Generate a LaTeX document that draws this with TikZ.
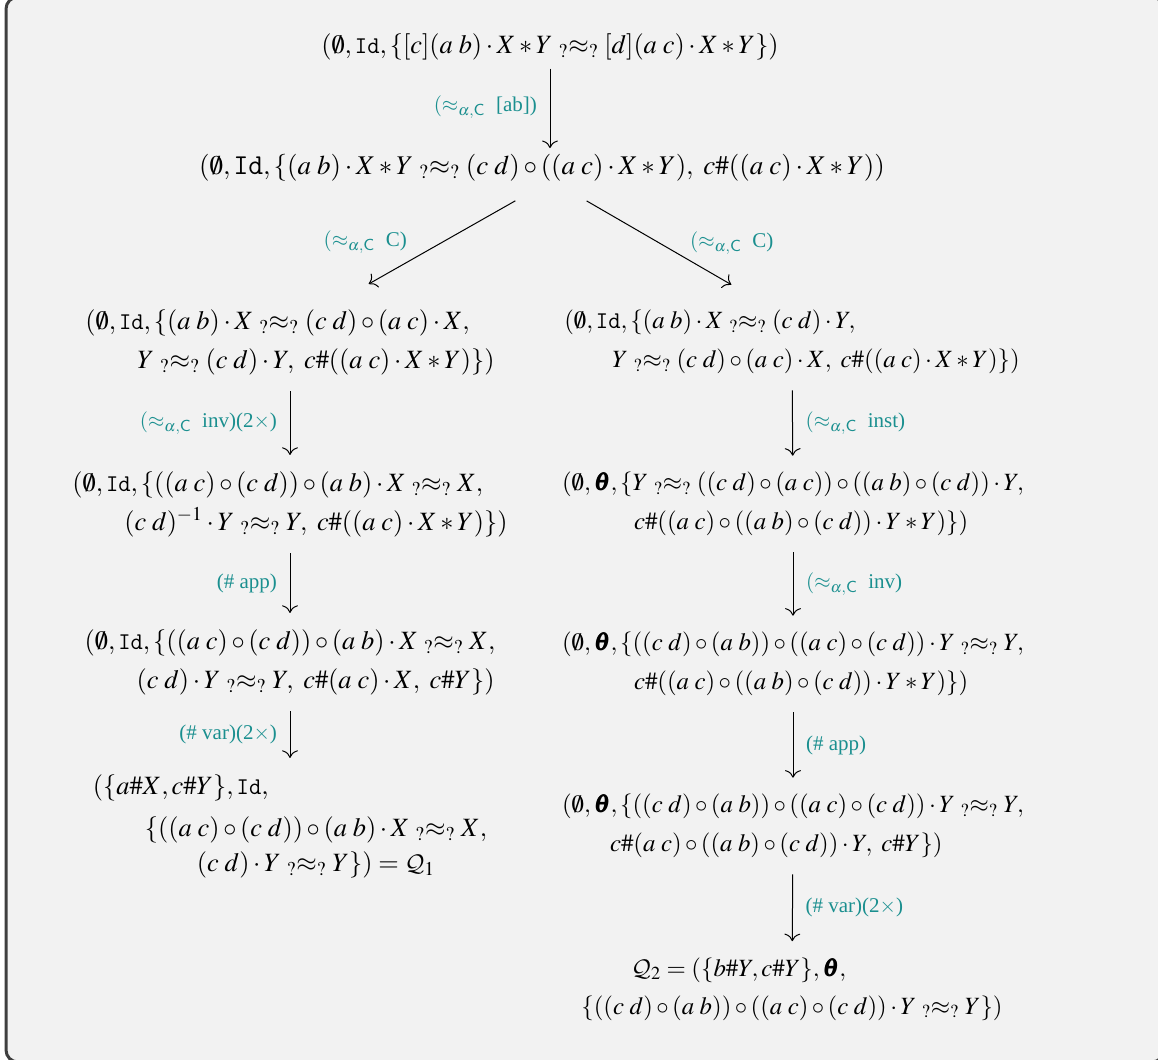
\documentclass[tikz,border=0pt]{standalone}
\usepackage{amsmath}
\usepackage{mathptmx}
\DeclareMathAlphabet{\mathcal}{OMS}{cmsy}{m}{n}
\usepackage[no-math]{fontspec}
\setmainfont{Liberation Serif}
\usepackage{bm}
\usetikzlibrary{positioning,arrows.meta}
\definecolor{ruleTeal}{HTML}{1A8F8F}
\definecolor{boxGray}{HTML}{F2F2F2}
\definecolor{boxFrame}{HTML}{3F3F3F}
\newcommand{\uapprox}{\mathrel{{}_{?}{\approx}_{?}}}
\newcommand{\perm}[2]{(#1\;#2)}
\newcommand{\ruleC}{\approx_{\alpha,\mathsf{C}}}

\begin{document}
\begin{tikzpicture}[x=0.5pt,y=-0.5pt,
  state/.style={inner sep=3pt, align=left, font=\fontsize{13.2}{16}\selectfont},
  rstate/.style={state, font=\fontsize{12.4}{16}\selectfont},
  rulelbl/.style={font=\fontsize{10.5}{12}\selectfont, text=ruleTeal},
  derive/.style={-{To[scale=1.4]}, line width=0.5pt, shorten >=5pt, shorten <=5pt}]
\useasboundingbox (0,0) rectangle (1158,1060);
\draw[boxFrame, fill=boxGray, line width=1.5pt, rounded corners=6pt] (6,-3) rectangle (1164,1062);

% start
\node[state] (p0) at (550,47) {$(\emptyset,\mathtt{Id},\{[c]\perm ab\cdot X*Y\uapprox[d]\perm ac\cdot X*Y\})$};
\node[state, font=\fontsize{13.5}{16}\selectfont] (p1) at (542,168) {$(\emptyset,\mathtt{Id},\{\perm ab\cdot X*Y\uapprox\perm cd\circ(\perm ac\cdot X*Y),\ c\#(\perm ac\cdot X*Y))$};

% left branch
\node[state] (l1) at (290,342) {$(\emptyset,\mathtt{Id},\{\perm ab\cdot X\uapprox\perm cd\circ\perm ac\cdot X,$\\[3.5pt]
  \hspace*{26pt}$Y\uapprox\perm cd\cdot Y,\ c\#(\perm ac\cdot X*Y)\})$};
\node[state] (l2) at (290,504) {$(\emptyset,\mathtt{Id},\{(\perm ac\circ\perm cd)\circ\perm ab\cdot X\uapprox X,$\\[3.5pt]
  \hspace*{26pt}$\perm cd^{-1}\cdot Y\uapprox Y,\ c\#(\perm ac\cdot X*Y)\})$};
\node[state] (l3) at (290,662) {$(\emptyset,\mathtt{Id},\{(\perm ac\circ\perm cd)\circ\perm ab\cdot X\uapprox X,$\\[3.5pt]
  \hspace*{26pt}$\perm cd\cdot Y\uapprox Y,\ c\#\perm ac\cdot X,\ c\#Y\})$};
\node[state] (l4) at (290,826) {$(\{a\#X,c\#Y\},\mathtt{Id},$\\[5pt]
  \hspace*{26pt}$\{(\perm ac\circ\perm cd)\circ\perm ab\cdot X\uapprox X,$\\[1.5pt]
  \hspace*{52pt}$\perm cd\cdot Y\uapprox Y\})=\mathcal{Q}_1$};

% right branch
\node[rstate] (r1) at (792,342) {$(\emptyset,\mathtt{Id},\{\perm ab\cdot X\uapprox\perm cd\cdot Y,$\\[3.5pt]
  \hspace*{24pt}$Y\uapprox\perm cd\circ\perm ac\cdot X,\ c\#(\perm ac\cdot X*Y)\})$};
\node[rstate] (r2) at (793,504) {$(\emptyset,\bm{\theta},\{Y\uapprox(\perm cd\circ\perm ac)\circ(\perm ab\circ\perm cd)\cdot Y,$\\[3.5pt]
  \hspace*{36pt}$c\#(\perm ac\circ(\perm ab\circ\perm cd)\cdot Y*Y)\})$};
\node[rstate] (r3) at (793,664) {$(\emptyset,\bm{\theta},\{(\perm cd\circ\perm ab)\circ(\perm ac\circ\perm cd)\cdot Y\uapprox Y,$\\[3.5pt]
  \hspace*{36pt}$c\#(\perm ac\circ(\perm ab\circ\perm cd)\cdot Y*Y)\})$};
\node[rstate] (r4) at (793,826) {$(\emptyset,\bm{\theta},\{(\perm cd\circ\perm ab)\circ(\perm ac\circ\perm cd)\cdot Y\uapprox Y,$\\[3.5pt]
  \hspace*{24pt}$c\#\perm ac\circ(\perm ab\circ\perm cd)\cdot Y,\ c\#Y\})$};
\node[rstate] (r5) at (792,989) {\hspace*{25pt}$\mathcal{Q}_2=(\{b\#Y,c\#Y\},\bm{\theta},$\\[3pt]
  $\{(\perm cd\circ\perm ab)\circ(\perm ac\circ\perm cd)\cdot Y\uapprox Y\})$};

% steps
\draw[derive, shorten <=1pt, shorten >=0pt] (p0.south) -- (p0.south |- p1.north) node[midway, left=3pt, rulelbl] {$(\ruleC$\ \ [ab])};
\draw[derive] ([xshift=-9pt,yshift=-4pt]p1.south) -- ([xshift=35pt,yshift=7pt]l1.north) node[midway, left=14pt, rulelbl] {$(\ruleC$\ \ C)};
\draw[derive] ([xshift=18pt,yshift=-4pt]p1.south) -- ([xshift=-26pt,yshift=7pt]r1.north) node[midway, right=12pt, rulelbl] {$(\ruleC$\ \ C)};
\draw[derive] (l1) -- (l2) node[midway, left=3pt, rulelbl] {$(\ruleC$\ \ inv)(2$\times$)};
\draw[derive] (l2) -- (l3) node[midway, left=3pt, rulelbl] {(\# app)};
\draw[derive] (l3) -- (l4) node[midway, left=3pt, rulelbl] {(\# var)(2$\times$)};
\draw[derive] (r1) -- (r2) node[midway, right=3pt, rulelbl] {$(\ruleC$\ \ inst)};
\draw[derive] (r2) -- (r3) node[midway, right=3pt, rulelbl] {$(\ruleC$\ \ inv)};
\draw[derive] (r3) -- (r4) node[midway, right=3pt, rulelbl] {(\# app)};
\draw[derive] (r4) -- (r5) node[midway, right=3pt, rulelbl] {(\# var)(2$\times$)};
\end{tikzpicture}
\end{document}
